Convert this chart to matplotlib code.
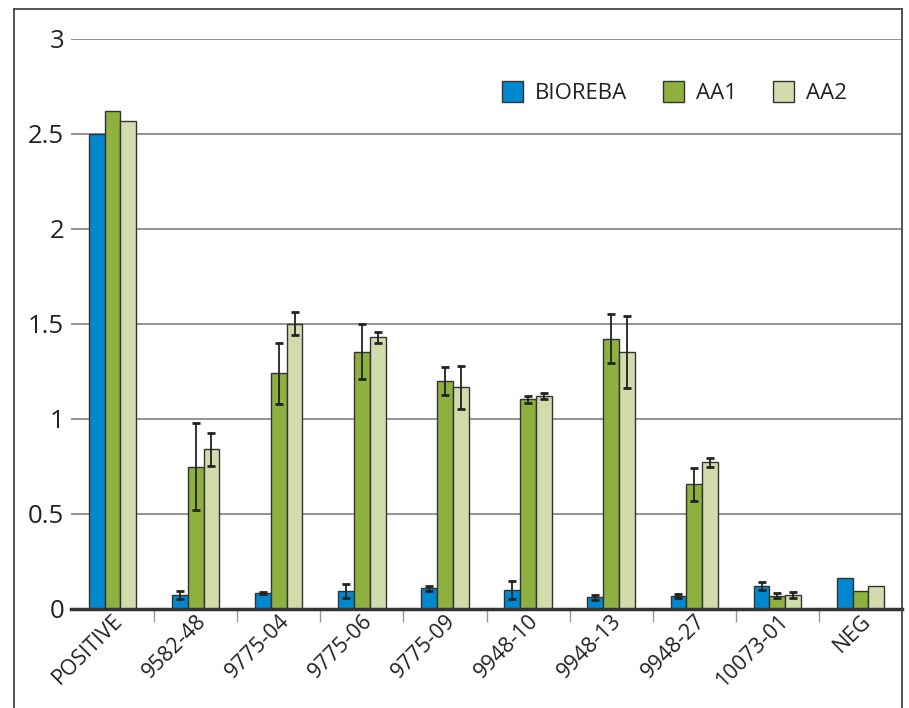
import numpy as np
import matplotlib
matplotlib.use("Agg")
import matplotlib.pyplot as plt
from matplotlib.lines import Line2D

plt.rcParams['font.family'] = ['Open Sans', 'DejaVu Sans']

# données
categories = ['POSITIVE', '9582-48', '9775-04', '9775-06', '9775-09',
              '9948-10', '9948-13', '9948-27', '10073-01', 'NEG']
series = ['BIOREBA', 'AA1', 'AA2']
bioreba = [2.50, 0.074, 0.082, 0.096, 0.109, 0.100, 0.061, 0.070, 0.121, 0.161]
aa1 = [2.62, 0.748, 1.24, 1.352, 1.20, 1.103, 1.422, 0.655, 0.070, 0.093]
aa2 = [2.565, 0.839, 1.50, 1.428, 1.165, 1.119, 1.352, 0.771, 0.074, 0.122]
err_bioreba = [None, 0.022, 0.005, 0.037, 0.014, 0.048, 0.012, 0.011, 0.019, None]
err_aa1 = [None, 0.23, 0.16, 0.145, 0.075, 0.018, 0.128, 0.088, 0.012, None]
err_aa2 = [None, 0.088, 0.06, 0.03, 0.114, 0.017, 0.19, 0.025, 0.016, None]
colors = ['#0088cf', '#8db03e', '#d2dbab']

fig = plt.figure(figsize=(9.09, 7.08), dpi=100)
ax = fig.add_axes([71 / 909, 1 - 609 / 708, 831 / 909, (609 - 38.5) / 708])

x = np.arange(len(categories))
w = 0.19
valeurs = [bioreba, aa1, aa2]
erreurs = [err_bioreba, err_aa1, err_aa2]
for i, (vals, errs, c, nom) in enumerate(zip(valeurs, erreurs, colors, series)):
    pos = x + (i - 1) * w
    ax.bar(pos, vals, width=w, color=c, edgecolor='#333333', linewidth=1.0,
           label=nom, zorder=3)
    idx = [k for k, e in enumerate(errs) if e is not None]
    ax.errorbar(pos[idx], np.array(vals)[idx], yerr=np.array([errs[k] for k in idx]),
                fmt='none', ecolor='#222222', elinewidth=1.3, capsize=3.2,
                capthick=2, zorder=4)

ax.set_xlim(-0.5, len(categories) - 0.5)
ax.set_ylim(0, 3)
ax.set_yticks(np.arange(0, 3.01, 0.5))
ax.set_yticklabels(['0', '0.5', '1', '1.5', '2', '2.5', '3'], fontsize=18.5, color='#222222')
ax.grid(True, axis='y', color='#8a8a8a', linewidth=1.3, zorder=0)
ax.tick_params(axis='y', length=0, pad=5)

ax.set_xticks(x)
ax.set_xticklabels(categories, rotation=45, ha='right', rotation_mode='anchor',
                   fontsize=15.5, color='#222222')
ax.tick_params(axis='x', which='major', length=0, pad=1)
ax.set_xticks(np.arange(0.5, len(categories) - 0.5, 1), minor=True)
ax.tick_params(axis='x', which='minor', length=9, width=1, color='#999999')

for s in ['top', 'left', 'right']:
    ax.spines[s].set_visible(False)
ax.spines['bottom'].set_linewidth(2.5)
ax.spines['bottom'].set_color('#333333')
ax.spines['bottom'].set_zorder(5)

ax.legend(loc='upper right', bbox_to_anchor=(858 / 909, 1 - 70 / 708),
          bbox_transform=fig.transFigure, ncol=3, frameon=False, fontsize=16,
          handlelength=0.95, handleheight=1.1, handletextpad=0.55,
          columnspacing=1.6, borderpad=0, labelcolor='#222222')

# cadre autour du graphique
for (x0, y0, x1, y1) in [(14, 9, 14, 708), (14, 9, 902, 9), (902, 9, 902, 708)]:
    fig.add_artist(Line2D([x0 / 909, x1 / 909], [1 - y0 / 708, 1 - y1 / 708],
                          color='#444444', linewidth=1.3, transform=fig.transFigure))

fig.savefig('out.png', dpi=100)
